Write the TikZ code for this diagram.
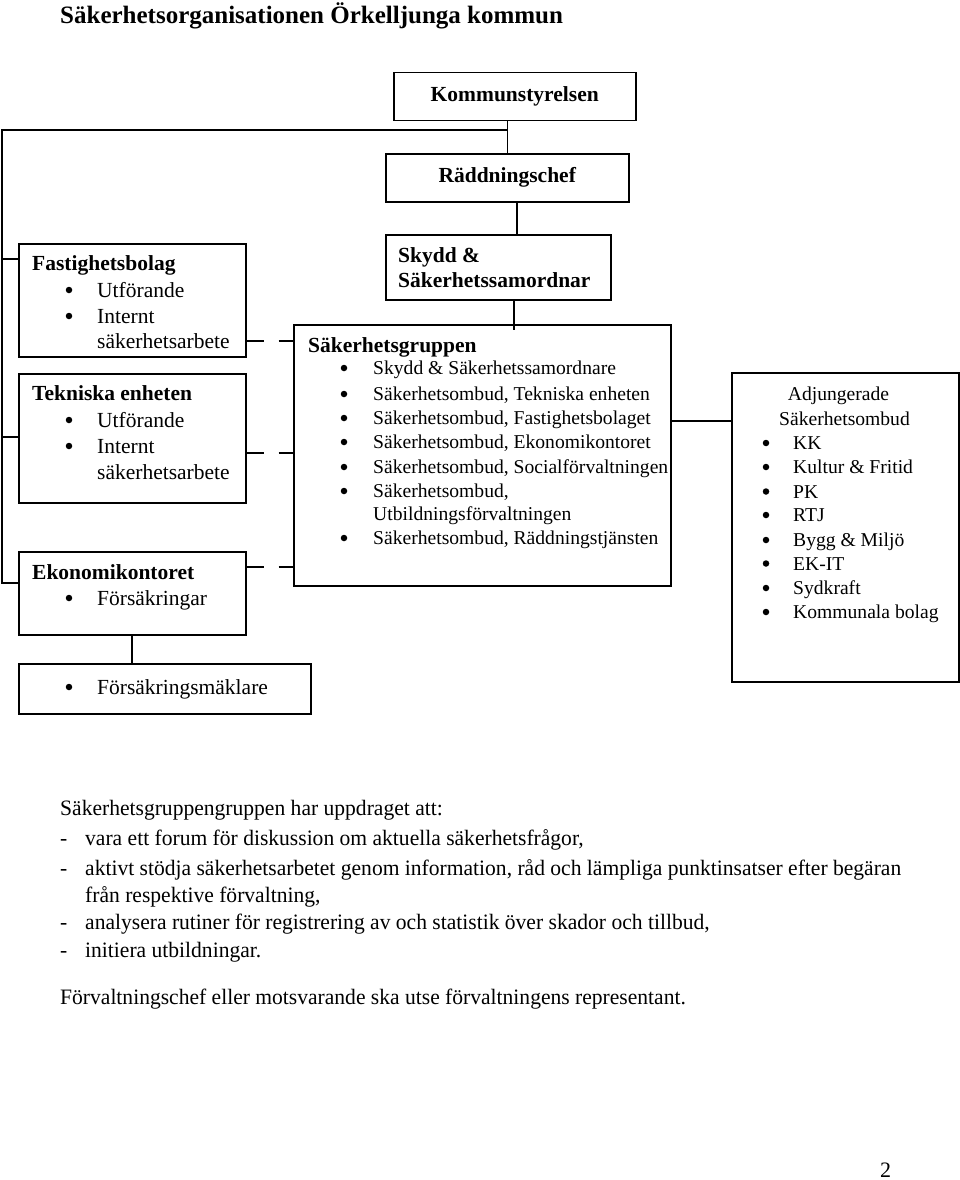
\documentclass[tikz,border=0pt]{standalone}
\usepackage{fontspec}
\setmainfont{Liberation Serif}
\newfontfamily\narrowfont[FakeStretch=0.98]{Liberation Serif}
\usetikzlibrary{calc}
\begin{document}
\begin{tikzpicture}[x=1pt,y=-1pt,
  box/.style={draw, line width=1.5pt, inner sep=0pt, anchor=north west},
  conn/.style={line width=1.5pt},
  dconn/.style={line width=1.5pt, dash pattern=on 17pt off 15pt},
  lbl/.style={inner sep=0pt, anchor=base west},
  hb/.style={lbl, font=\fontsize{21.5}{26}\selectfont\bfseries},
  it/.style={lbl, font=\fontsize{21.5}{26}\selectfont},
  sit/.style={lbl, font=\fontsize{19.6}{24}\selectfont},
  bt/.style={lbl, font=\fontsize{22}{28}\selectfont\narrowfont},
  bul/.style={circle, fill, inner sep=0pt, minimum size=6.5pt}]
\useasboundingbox[fill=white] (0,0) rectangle (960,1180);

% title
\node[lbl, font=\fontsize{25}{30}\selectfont\bfseries] (title) at (60,24) {Säkerhetsorganisationen Örkelljunga kommun};

% boxes
\node[box, minimum width=242pt, minimum height=48pt] (ks) at (393,72) {};
\node[box, minimum width=243pt, minimum height=48pt] (rc) at (385,153) {};
\node[box, minimum width=225pt, minimum height=65pt] (sk) at (385,234) {};
\node[box, minimum width=377pt, minimum height=261pt] (sg) at (293,324) {};
\node[box, minimum width=227pt, minimum height=113pt] (fb) at (18,243) {};
\node[box, minimum width=227pt, minimum height=129pt] (te) at (18,373) {};
\node[box, minimum width=227pt, minimum height=83pt] (ek) at (18,551) {};
\node[box, minimum width=292pt, minimum height=50pt] (fm) at (18,663) {};
\node[box, minimum width=227pt, minimum height=309pt] (ad) at (731,372) {};

% box texts
\node[font=\fontsize{21.5}{26}\selectfont\bfseries, inner sep=0pt] (kst) at (ks.center) {Kommunstyrelsen};
\node[font=\fontsize{21.5}{26}\selectfont\bfseries, inner sep=0pt] (rct) at (rc.center) {Räddningschef};
\node[hb] (skt1) at (398,262) {Skydd \&};
\node[hb] (skt2) at (398,287) {Säkerhetssamordnar};

\node[hb] (fbt) at (32,270) {Fastighetsbolag};
\node[bul] (fbb1) at (69,290) {};
\node[bul] (fbb2) at (69,316) {};
\node[it] (fbi1) at (97,297) {Utförande};
\node[it] (fbi2) at (97,323) {Internt};
\node[it] (fbi3) at (97,348) {säkerhetsarbete};

\node[hb] (tet) at (32,400) {Tekniska enheten};
\node[bul] (teb1) at (69,420) {};
\node[bul] (teb2) at (69,446) {};
\node[it] (tei1) at (97,427) {Utförande};
\node[it] (tei2) at (97,453) {Internt};
\node[it] (tei3) at (97,479) {säkerhetsarbete};

\node[hb] (ekt) at (32,579) {Ekonomikontoret};
\node[bul] (ekb1) at (69,598) {};
\node[it] (eki1) at (97,605) {Försäkringar};

\node[bul] (fmb1) at (69,687) {};
\node[it] (fmi1) at (97,694) {Försäkringsmäklare};

\node[hb] (sgt) at (308,352) {Säkerhetsgruppen};
\foreach \y/\t [count=\i] in {368/{Skydd \& Säkerhetssamordnare},
  394/{Säkerhetsombud, Tekniska enheten},
  418/{Säkerhetsombud, Fastighetsbolaget},
  442/{Säkerhetsombud, Ekonomikontoret},
  467/{Säkerhetsombud, Socialförvaltningen},
  491/{Säkerhetsombud,},
  538/{Säkerhetsombud, Räddningstjänsten}}{
  \node[bul] (sgb\i) at (344,\y) {};
  \node[sit] (sgi\i) at (373,\y+6.5) {\t};
}
\node[sit] (sgi8) at (373,520.5) {Utbildningsförvaltningen};

\node[inner sep=0pt, anchor=base, font=\fontsize{19.6}{24}\selectfont] (adt1) at (838.5,400) {Adjungerade};
\node[inner sep=0pt, anchor=base, font=\fontsize{19.6}{24}\selectfont] (adt2) at (844.5,425) {Säkerhetsombud};
\foreach \y/\t [count=\i] in {443/KK, 467/{Kultur \& Fritid}, 491.5/PK, 515/RTJ,
  540/{Bygg \& Miljö}, 563.5/EK-IT, 588/Sydkraft, 612/{Kommunala bolag}}{
  \node[bul] (adb\i) at (766,\y) {};
  \node[sit] (adi\i) at (793,\y+6.5) {\t};
}

% connectors
\coordinate (spine) at (2,130);
\coordinate (fbin) at ([yshift=-16pt]fb.north west);
\coordinate (tein) at ([yshift=-64pt]te.north west);
\coordinate (ekin) at ([yshift=-32pt]ek.north west);
\draw[conn] (ks.south -| rc.north) -- (rc.north);
\draw[conn] (spine -| rc.north) -- (spine) -- (spine |- ekin) -- (ekin);
\draw[conn] (spine |- fbin) -- (fbin);
\draw[conn] (spine |- tein) -- (tein);
\coordinate (rcout) at ([xshift=9.5pt]rc.south);
\draw[conn] (rcout) -- (rcout |- sk.north);
\coordinate (skout) at ([xshift=15.5pt]sk.south);
\draw[conn] (skout) -- ($(skout |- sg.north)+(0,6)$);
\coordinate (fbout) at ([yshift=-98pt]fb.north east);
\coordinate (teout) at ([yshift=-80pt]te.north east);
\coordinate (ekout) at ([yshift=-16pt]ek.north east);
\draw[dconn] (fbout) -- (fbout -| sg.west);
\draw[dconn] (teout) -- (teout -| sg.west);
\draw[dconn] (ekout) -- (ekout -| sg.west);
\coordinate (adin) at ([yshift=-49pt]ad.north west);
\draw[conn] (adin -| sg.east) -- (adin);
\coordinate (ekdown) at ([xshift=114pt]ek.south west);
\draw[conn] (ekdown) -- (ekdown |- fm.north);

% bottom text
\node[bt] (p0) at (60,815) {Säkerhetsgruppengruppen har uppdraget att:};
\foreach \y/\t [count=\i] in {845/{vara ett forum för diskussion om aktuella säkerhetsfrågor,},
  875/{aktivt stödja säkerhetsarbetet genom information, råd och lämpliga punktinsatser efter begäran},
  929/{analysera rutiner för registrering av och statistik över skador och tillbud,},
  957/{initiera utbildningar.}}{
  \node[bt] (pd\i) at (60,\y) {-};
  \node[bt] (pt\i) at (85,\y) {\t};
}
\node[bt] (pc) at (85,902) {från respektive förvaltning,};
\node[bt] (p9) at (60,1004) {Förvaltningschef eller motsvarande ska utse förvaltningens representant.};
\node[lbl, font=\fontsize{22}{26}\selectfont] (pg) at (880,1177) {2};
\end{tikzpicture}
\end{document}
